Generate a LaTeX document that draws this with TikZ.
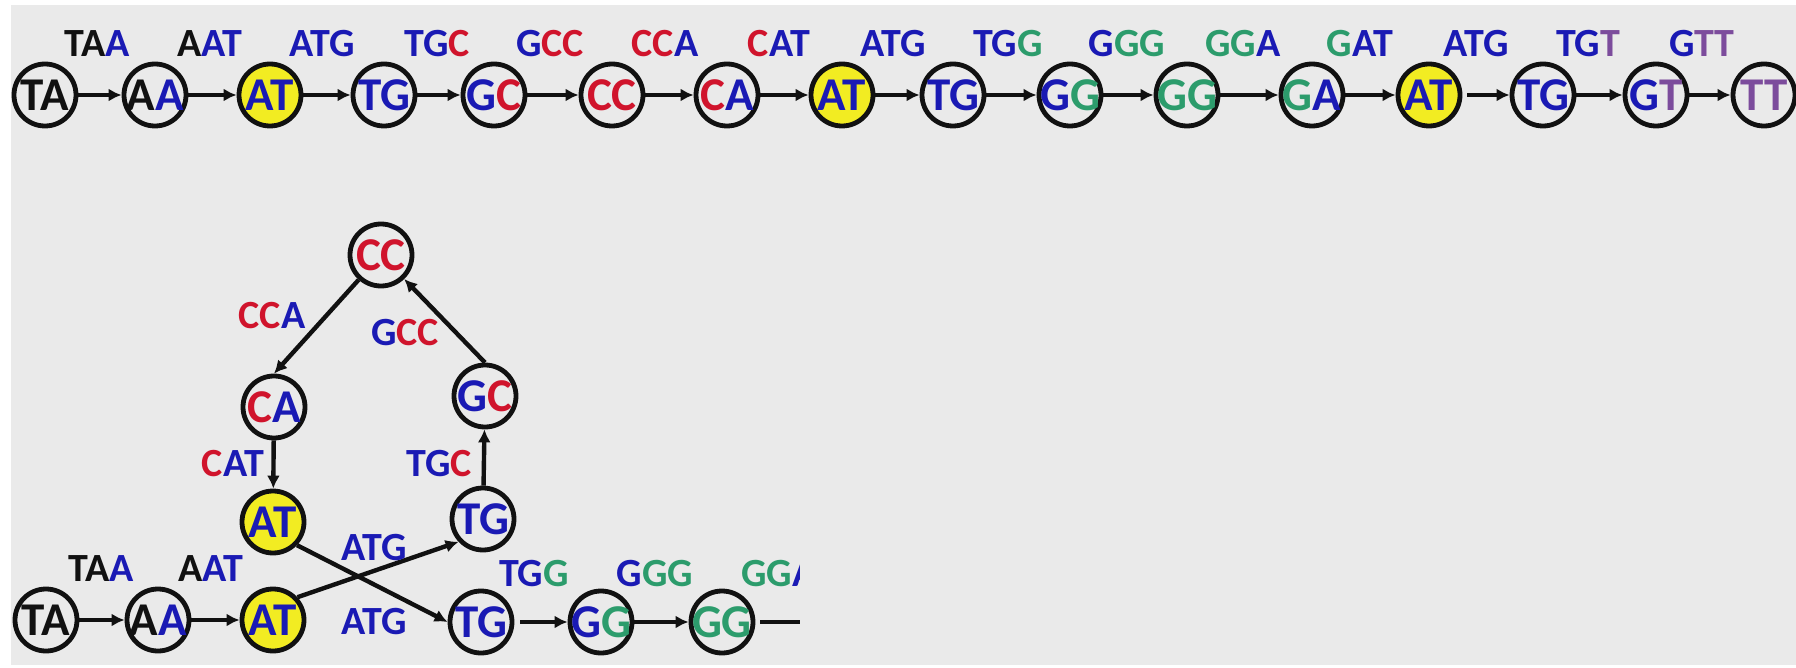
\documentclass[tikz,border=0pt]{standalone}
\usepackage{fontspec}
\setmainfont{Carlito}
\usetikzlibrary{arrows.meta}

\definecolor{dnablack}{HTML}{111111}
\definecolor{dnablue}{HTML}{1A1AB4}
\definecolor{dnared}{HTML}{D0142C}
\definecolor{dnagreen}{HTML}{2C9C6C}
\definecolor{dnapurple}{HTML}{7C4C9C}
\definecolor{hubyellow}{HTML}{F2EC22}
\definecolor{panel}{HTML}{EAEAEA}

% one macro per base colour
\newcommand\nK[1]{\textcolor{dnablack}{#1}}
\newcommand\nB[1]{\textcolor{dnablue}{#1}}
\newcommand\nR[1]{\textcolor{dnared}{#1}}
\newcommand\nG[1]{\textcolor{dnagreen}{#1}}
\newcommand\nP[1]{\textcolor{dnapurple}{#1}}

\tikzset{
  vtx/.style={circle, draw=dnablack, line width=4.8pt, minimum size=62pt, inner sep=0pt},
  hub/.style={vtx, fill=hubyellow},
  ntext/.style={font=\fontsize{47}{47}\selectfont\bfseries, inner sep=0pt},
  elabel/.style={font=\fontsize{40}{40}\selectfont\bfseries, inner sep=0pt},
  edge/.style={draw=dnablack, line width=4.4pt, -{Latex[length=13pt,width=13pt]}},
  plain/.style={draw=dnablack, line width=4.4pt},
}

\begin{document}
\begin{tikzpicture}[x=1pt, y=-1pt]
\useasboundingbox (0,0) rectangle (1796,668);
\fill[white] (0,0) rectangle (1796,668);
\fill[panel] (11,5) rectangle (1796,665);

% ---------------- linear path of 2-mers ----------------
\node[vtx, label={[ntext]center:{\nK{TA}}}] (a1) at (45,95) {};
\node[vtx, label={[ntext]center:{\nK{A}\nB{A}}}] (a2) at (155,95) {};
\node[hub, label={[ntext]center:{\nB{AT}}}] (a3) at (270,95) {};
\node[vtx, label={[ntext]center:{\nB{TG}}}] (a4) at (384,95) {};
\node[vtx, label={[ntext]center:{\nB{G}\nR{C}}}] (a5) at (494,95) {};
\node[vtx, label={[ntext]center:{\nR{CC}}}] (a6) at (612,95) {};
\node[vtx, label={[ntext]center:{\nR{C}\nB{A}}}] (a7) at (727,95) {};
\node[hub, label={[ntext]center:{\nB{AT}}}] (a8) at (842,95) {};
\node[vtx, label={[ntext]center:{\nB{TG}}}] (a9) at (953,95) {};
\node[vtx, label={[ntext]center:{\nB{G}\nG{G}}}] (a10) at (1070,95) {};
\node[vtx, label={[ntext]center:{\nG{GG}}}] (a11) at (1187,95) {};
\node[vtx, label={[ntext]center:{\nG{G}\nB{A}}}] (a12) at (1312,95) {};
\node[hub, label={[ntext]center:{\nB{AT}}}] (a13) at (1429,95) {};
\node[vtx, label={[ntext]center:{\nB{TG}}}] (a14) at (1543,95) {};
\node[vtx, label={[ntext]center:{\nB{G}\nP{T}}}] (a15) at (1656,95) {};
\node[vtx, label={[ntext]center:{\nP{TT}}}] (a16) at (1764,95) {};

\foreach \i/\j in {1/2,2/3,3/4,4/5,5/6,6/7,7/8,8/9,9/10,10/11,11/12,12/13,14/15,15/16}
  \draw[edge] (a\i) -- (a\j);
\draw[edge, shorten <=5pt] (a13) -- (a14);

\node[elabel] (l1) at (97,44) {\nK{TA}\nB{A}};
\node[elabel] (l2) at (210,44) {\nK{A}\nB{AT}};
\node[elabel] (l3) at (322,44) {\nB{ATG}};
\node[elabel] (l4) at (437,44) {\nB{TG}\nR{C}};
\node[elabel] (l5) at (550,44) {\nB{G}\nR{CC}};
\node[elabel] (l6) at (665,44) {\nR{CC}\nB{A}};
\node[elabel] (l7) at (779,44) {\nR{C}\nB{AT}};
\node[elabel] (l8) at (893,44) {\nB{ATG}};
\node[elabel] (l9) at (1008,44) {\nB{TG}\nG{G}};
\node[elabel] (l10) at (1127,44) {\nB{G}\nG{GG}};
\node[elabel] (l11) at (1243,44) {\nG{GG}\nB{A}};
\node[elabel] (l12) at (1360,44) {\nG{G}\nB{AT}};
\node[elabel] (l13) at (1476,44) {\nB{ATG}};
\node[elabel] (l14) at (1588,44) {\nB{TG}\nP{T}};
\node[elabel] (l15) at (1702,44) {\nB{G}\nP{TT}};

% ---------------- graph with the repeated AT folded ----------------
\node[vtx, label={[ntext]center:{\nK{TA}}}] (b1) at (46,620) {};
\node[vtx, label={[ntext]center:{\nK{A}\nB{A}}}] (b2) at (158,620) {};
\node[hub, label={[ntext]center:{\nB{AT}}}] (b3) at (273,620) {};
\node[vtx, label={[ntext]center:{\nB{TG}}}] (b4) at (481,622) {};
\node[vtx, label={[ntext]center:{\nB{G}\nG{G}}}] (b5) at (601,622) {};
\node[vtx, label={[ntext]center:{\nG{GG}}}] (b6) at (722,622) {};
\coordinate (bend) at (800,622);

\node[hub, label={[ntext]center:{\nB{AT}}}] (c1) at (273,522) {};
\node[vtx, label={[ntext]center:{\nB{TG}}}] (c2) at (483,519) {};
\node[vtx, label={[ntext]center:{\nR{C}\nB{A}}}] (c3) at (274,407) {};
\node[vtx, label={[ntext]center:{\nB{G}\nR{C}}}] (c4) at (485,396) {};
\node[vtx, label={[ntext]center:{\nR{CC}}}] (c5) at (381,255) {};

\draw[edge] (b1) -- (b2);
\draw[edge] (b2) -- (b3);
\draw[edge] (b3.43) -- (c2.-137);
\draw[edge] (c1.-44) -- (b4.180);
\draw[edge, shorten <=6pt] (b4) -- (b5);
\draw[edge] (b5) -- (b6);
\draw[plain, shorten <=5pt] (b6) -- (bend);
\draw[edge] (c2) -- (c4);
\draw[edge] (c4.north) -- (c5);
\draw[edge] (c5) -- (c3.north);
\draw[edge] (c3) -- (c1);

\node[elabel] (m1) at (101,569) {\nK{TA}\nB{A}};
\node[elabel] (m2) at (211,569) {\nK{A}\nB{AT}};
\node[elabel] (m3) at (374,548) {\nB{ATG}};
\node[elabel] (m4) at (374,622) {\nB{ATG}};
\node[elabel] (m5) at (534,574) {\nB{TG}\nG{G}};
\node[elabel] (m6) at (655,574) {\nB{G}\nG{GG}};
\begin{scope}
  \clip (0,0) rectangle (799,668);
  \node[elabel] (m7) at (779,574) {\nG{GG}\nB{A}};
\end{scope}
\node[elabel] (m8) at (233,464) {\nR{C}\nB{AT}};
\node[elabel] (m9) at (439,464) {\nB{TG}\nR{C}};
\node[elabel] (m10) at (272,316) {\nR{CC}\nB{A}};
\node[elabel] (m11) at (405,333) {\nB{G}\nR{CC}};
\end{tikzpicture}
\end{document}
